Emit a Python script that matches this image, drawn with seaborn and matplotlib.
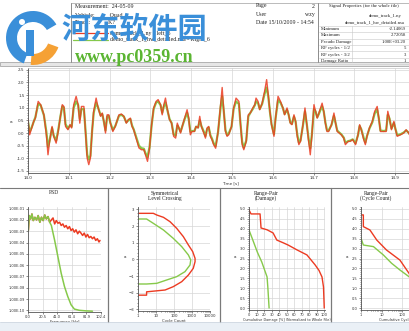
import numpy as np
import pandas as pd
import matplotlib
matplotlib.use("Agg")
import matplotlib.pyplot as plt
import seaborn as sns
from matplotlib.patches import Wedge, Rectangle, Circle
from matplotlib.ticker import AutoMinorLocator, FixedLocator, NullFormatter

# ---------------- data ----------------
# main time history (time [s], two channels)
time_s = [
    14.000, 14.004, 14.009, 14.014, 14.018, 14.025, 14.031, 14.039, 14.045, 14.049,
    14.053, 14.059, 14.063, 14.069, 14.074, 14.080, 14.084, 14.088, 14.092, 14.098,
    14.103, 14.107, 14.112, 14.118, 14.123, 14.127, 14.131, 14.137, 14.141, 14.145,
    14.149, 14.153, 14.157, 14.161, 14.167, 14.172, 14.178, 14.182, 14.186, 14.190,
    14.194, 14.198, 14.202, 14.208, 14.214, 14.223, 14.229, 14.235, 14.241, 14.246,
    14.251, 14.255, 14.259, 14.265, 14.272, 14.278, 14.284, 14.288, 14.293, 14.298,
    14.303, 14.308, 14.314, 14.319, 14.325, 14.329, 14.333, 14.337, 14.341, 14.347,
    14.352, 14.357, 14.362, 14.366, 14.370, 14.374, 14.378, 14.384, 14.390, 14.394,
    14.398, 14.402, 14.408, 14.412, 14.417, 14.421, 14.425, 14.431, 14.435, 14.439,
    14.443, 14.447, 14.451, 14.455, 14.460, 14.466, 14.472, 14.476, 14.480, 14.484,
    14.488, 14.492, 14.499, 14.504, 14.510, 14.517, 14.521, 14.525, 14.529, 14.535,
    14.540, 14.545, 14.551, 14.556, 14.559, 14.564, 14.568, 14.574, 14.580, 14.585,
    14.589, 14.593, 14.597, 14.603, 14.607, 14.613, 14.619, 14.625, 14.629, 14.635,
    14.639, 14.643, 14.647, 14.652, 14.656, 14.660, 14.664, 14.668, 14.674, 14.679,
    14.684, 14.688, 14.692, 14.696, 14.701, 14.705, 14.709, 14.713, 14.717, 14.721,
    14.725, 14.729, 14.733, 14.737, 14.744, 14.750, 14.754, 14.758, 14.763, 14.768,
    14.774, 14.778, 14.785, 14.790, 14.796, 14.803, 14.809, 14.813, 14.817, 14.823,
    14.827, 14.831, 14.837, 14.844, 14.850, 14.856, 14.860, 14.864, 14.872, 14.878,
    14.882, 14.886, 14.891, 14.897, 14.901, 14.905, 14.913, 14.921, 14.927, 14.933,
    14.938,
]
signal_red = [
    0.53, -0.07, 0.20, 0.46, 0.59, 1.25, 1.12, 0.72, -0.07, -0.86,
    -0.33, 0.26, -0.13, -0.40, 0.06, 0.72, 1.12, 1.05, 0.26, 0.13,
    0.33, 0.20, 1.12, 1.45, 1.12, 0.39, 1.05, 1.05, 0.06, -0.99,
    -1.25, -0.99, 0.06, 0.86, 1.38, 0.99, 0.66, 0.79, 0.46, 0.00,
    0.72, 0.72, 0.39, 0.06, 0.26, 0.72, 0.75, 0.66, 0.39, 0.53,
    0.59, 0.26, 0.13, -0.20, -0.59, -0.66, -0.66, -0.86, -1.12, -0.59,
    0.33, 0.99, 1.25, 1.32, 1.12, 0.72, 1.12, 1.38, 0.99, 0.53,
    0.39, -0.13, -0.20, 0.39, 0.20, 0.00, 0.26, 0.59, 0.92, 0.59,
    -0.07, 0.06, 0.06, 0.26, 0.20, 0.66, 0.26, 0.00, -0.20, 0.20,
    0.26, -0.13, -0.26, -0.46, -0.60, 0.06, 1.12, 1.80, 0.86, 0.06,
    -0.13, -0.07, 0.26, 0.99, 1.38, 1.25, 0.33, -0.46, -0.66, -0.33,
    0.72, 0.79, 0.99, 1.12, 1.38, 1.25, 0.92, 1.18, 1.65, 2.11,
    1.51, 0.86, 0.33, -0.13, 0.59, 1.45, 1.25, 0.99, 0.72, 0.99,
    0.72, 0.39, 0.33, 0.72, 0.46, -0.13, -0.46, -0.33, 0.33, 0.99,
    0.26, -0.33, -0.86, -0.07, 1.12, 0.86, 0.59, 0.79, 0.99, 1.18,
    0.86, 0.39, 0.06, 0.06, 0.33, 0.79, 0.39, 0.06, 0.00, -0.07,
    -0.20, -0.46, -0.33, -0.33, -0.26, -0.46, -0.07, 0.33, 0.13, -0.26,
    -0.46, -0.13, 0.20, 0.46, 0.86, 1.05, 0.59, 0.06, 0.06, 0.06,
    0.86, 0.59, 0.13, 0.46, 0.13, -0.13, -0.07, 0.00, 0.13, 0.00,
    -0.13,
]
signal_green = [
    0.45, 0.05, 0.22, 0.45, 0.62, 1.15, 1.10, 0.70, 0.05, -0.55,
    -0.30, 0.20, -0.10, -0.30, 0.10, 0.70, 1.05, 1.00, 0.35, 0.18,
    0.30, 0.25, 1.00, 1.25, 1.10, 0.55, 0.95, 0.95, 0.10, -0.85,
    -1.05, -0.90, 0.05, 0.80, 1.20, 1.00, 0.70, 0.75, 0.45, 0.10,
    0.65, 0.68, 0.40, 0.12, 0.28, 0.68, 0.72, 0.65, 0.42, 0.50,
    0.55, 0.30, 0.15, -0.15, -0.50, -0.60, -0.62, -0.80, -0.95, -0.55,
    0.30, 0.95, 1.20, 1.25, 1.10, 0.80, 1.05, 1.20, 0.95, 0.55,
    0.40, -0.05, -0.10, 0.30, 0.20, 0.05, 0.25, 0.55, 0.80, 0.55,
    0.05, 0.08, 0.08, 0.25, 0.22, 0.50, 0.28, 0.05, -0.12, 0.15,
    0.22, -0.08, -0.22, -0.40, -0.52, 0.05, 1.00, 1.45, 0.85, 0.12,
    -0.08, -0.02, 0.25, 0.95, 1.25, 1.15, 0.35, -0.35, -0.58, -0.30,
    0.65, 0.80, 0.95, 1.10, 1.25, 1.18, 0.95, 1.15, 1.55, 1.80,
    1.45, 0.85, 0.35, -0.05, 0.60, 1.30, 1.20, 0.98, 0.75, 0.92,
    0.72, 0.42, 0.36, 0.65, 0.45, -0.05, -0.38, -0.30, 0.30, 0.85,
    0.28, -0.25, -0.60, -0.05, 0.95, 0.85, 0.62, 0.75, 0.92, 1.05,
    0.85, 0.42, 0.10, 0.10, 0.32, 0.68, 0.40, 0.10, 0.02, -0.05,
    -0.18, -0.38, -0.32, -0.30, -0.25, -0.40, -0.08, 0.28, 0.15, -0.20,
    -0.38, -0.12, 0.18, 0.42, 0.78, 0.92, 0.58, 0.10, 0.08, 0.10,
    0.72, 0.58, 0.18, 0.40, 0.15, -0.08, -0.05, 0.02, 0.10, 0.02,
    -0.10,
]
time_ticks = [14.0, 14.1, 14.2, 14.3, 14.4, 14.5, 14.6, 14.7, 14.8, 14.9]
signal_ticks = [-1.5, -1.0, -0.5, 0.0, 0.5, 1.0, 1.5, 2.0, 2.5]

# PSD (frequency [Hz], log10 of PSD)
psd_freq_red = [0.5, 1.8, 3.7, 5.5, 7.4, 9.7, 12.0, 14.3, 16.6, 18.9,
                21.2, 23.5, 25.8, 28.1, 30.4, 32.8, 35.1, 37.4, 39.7, 42.0,
                44.3, 46.6, 48.9, 51.2, 53.5, 55.8, 58.1, 60.4, 62.7, 65.0,
                67.3, 69.7, 72.0, 74.3, 76.6, 78.9, 81.2, 83.5, 85.8, 88.1,
                90.4, 92.7, 95.0, 97.3, 99.6, 101.0]
psd_red_log10 = [-2.93, -1.61, -1.91, -1.47, -2.05, -1.76, -1.99, -1.61, -2.20, -1.76,
                 -2.05, -1.56, -1.91, -1.70, -2.20, -1.99, -1.82, -2.35, -2.05, -2.29,
                 -2.20, -2.49, -2.35, -2.64, -2.49, -2.78, -2.58, -2.93, -2.78, -3.08,
                 -2.87, -3.22, -2.99, -3.16, -3.37, -3.16, -3.51, -3.28, -3.57, -3.46,
                 -3.66, -3.51, -3.81, -3.66, -3.95, -3.81]
psd_freq_green = [0.5, 1.8, 3.7, 5.5, 7.4, 9.7, 12.0, 14.3, 16.6, 18.9,
                  21.2, 23.5, 25.8, 28.1, 30.4, 32.8, 37.4, 42.0, 46.6, 51.2,
                  55.8, 60.4, 65.0, 72.0, 81.2, 90.4]
psd_green_log10 = [-2.93, -1.61, -1.91, -1.47, -2.05, -1.76, -1.99, -1.61, -2.20, -1.76,
                   -2.05, -1.56, -1.91, -1.70, -2.20, -2.49, -3.81, -5.27, -6.73, -7.90,
                   -8.78, -9.51, -9.89, -10.00, -10.05, -10.08]
psd_xticks = [0.0, 20.5, 41.0, 61.4, 81.9, 102.4]

# Symmetrical level crossing (level, cycle count)
lc_level_red = [2.76, 2.76, 2.66, 2.52, 2.26, 1.86, 1.36, 0.86, 0.46, 0.06,
                -0.14, -0.54, -0.94, -1.34, -1.64, -1.84, -1.95, -2.15, -2.15]
lc_count_red = [1, 7.1, 11, 26, 60, 141, 331, 631, 1096, 1479,
                1479, 1175, 631, 269, 91, 32, 3.0, 3.0, 1]
lc_level_green = [2.42, 2.42, 2.16, 1.76, 1.26, 0.76, 0.26, -0.04, -0.34, -0.74,
                  -1.04, -1.24, -1.44, -1.48, -1.48]
lc_count_green = [1, 3.0, 7.1, 26, 91, 269, 631, 851, 776, 407,
                  141, 39, 11, 3.0, 1]

# Range-pair (damage)
rp_dmg_pct_red = [0, 2.7, 14.7, 16, 24, 32, 37, 45, 52, 64, 77, 88, 93, 97, 99, 100]
rp_dmg_range_red = [4.95, 4.75, 4.75, 4.04, 3.95, 3.79, 3.43, 3.30, 3.18, 2.93,
                    2.68, 2.17, 1.90, 1.57, 1.06, 0.0]
rp_dmg_pct_green = [0, 4, 11, 17, 24, 25, 26.7]
rp_dmg_range_green = [3.94, 3.54, 2.83, 2.32, 1.57, 1.06, 0.0]

# Range-pair (cycle count)
rp_cnt_red = [1, 1.3, 1.3, 2.7, 5.8, 17, 76, 210, 400]
rp_cnt_range_red = [4.70, 4.70, 4.11, 3.94, 3.43, 2.93, 2.42, 1.75, 1.20]
rp_cnt_green = [1, 1.3, 4.0, 12, 30, 76, 210, 500]
rp_cnt_range_green = [3.52, 3.18, 3.10, 2.68, 2.26, 1.92, 1.58, 1.20]
range_ticks = [0.0, 0.5, 1.0, 1.5, 2.0, 2.5, 3.0, 3.5, 4.0, 4.5, 5.0]

# ---------------- figure ----------------
RED = "#ec3b22"
GREEN = "#86c94a"
W, H = 409, 331

sns.set_theme(style="whitegrid")
plt.rcParams['font.family'] = ['DejaVu Sans']

fig = plt.figure(figsize=(W / 100, H / 100), dpi=100)
fig.patch.set_facecolor("white")


def axpx(l, t, r, b):
    return fig.add_axes([l / W, 1 - b / H, (r - l) / W, (b - t) / H])


def style(ax, fs=3.0):
    ax.set_facecolor("white")
    ax.grid(True, which="major", color="#d6d6d6", lw=0.5)
    for s in ["top", "right"]:
        ax.spines[s].set_visible(False)
    for s in ["left", "bottom"]:
        ax.spines[s].set_visible(True)
        ax.spines[s].set_color("#555555")
        ax.spines[s].set_linewidth(0.6)
    ax.tick_params(axis="both", which="both", labelsize=fs, length=1.5, width=0.4,
                   pad=1, colors="#333333", left=True, bottom=True)
    ax.tick_params(axis="both", which="minor", length=1.0)
    ax.set_xlabel("")
    ax.set_ylabel("")


# main time history
df_main = pd.DataFrame({"t": time_s, "red": signal_red, "green": signal_green})
ax = axpx(28, 68, 409, 173)
sns.lineplot(data=df_main, x="t", y="green", color=GREEN, lw=1.6, ax=ax)
sns.lineplot(data=df_main, x="t", y="red", color=RED, lw=1.0, alpha=0.85, ax=ax)
style(ax, 3.0)
ax.set_xlim(14.0, 14.934)
ax.set_ylim(-1.58, 2.57)
ax.set_xticks(time_ticks)
ax.set_xticklabels([f"{v:.1f}" for v in time_ticks])
ax.set_yticks(signal_ticks)
ax.set_yticklabels([f"{v:.1f}" for v in signal_ticks])
ax.yaxis.set_minor_locator(AutoMinorLocator(5))
ax.spines["top"].set_visible(True)
ax.spines["top"].set_color("#c8c8c8")
ax.spines["top"].set_linewidth(0.5)

# PSD
df_psd_r = pd.DataFrame({"f": psd_freq_red, "p": [10 ** v for v in psd_red_log10]})
df_psd_g = pd.DataFrame({"f": psd_freq_green, "p": [10 ** v for v in psd_green_log10]})
ax = axpx(28, 207, 101, 312)
sns.lineplot(data=df_psd_r, x="f", y="p", color=RED, lw=1.1, ax=ax)
sns.lineplot(data=df_psd_g, x="f", y="p", color=GREEN, lw=1.1, ax=ax)
ax.set_yscale("log")
style(ax, 2.6)
ax.set_ylim(10 ** -10.15, 10 ** -0.85)
ax.set_xlim(0, 102.4)
ax.yaxis.set_major_locator(FixedLocator([10.0 ** -k for k in range(1, 11)]))
ax.yaxis.set_minor_formatter(NullFormatter())
ax.set_yticklabels([f"1.00E-{k:02d}" for k in range(1, 11)])
ax.set_xticks(psd_xticks)
ax.set_xticklabels([f"{v:.1f}" for v in psd_xticks])
ax.set_xlabel("Frequency [Hz]", fontsize=2.8, labelpad=0.5, color="#333333")

# Level crossing
df_lc_r = pd.DataFrame({"n": lc_count_red, "a": lc_level_red})
df_lc_g = pd.DataFrame({"n": lc_count_green, "a": lc_level_green})
ax = axpx(138, 207, 210, 311)
sns.lineplot(data=df_lc_r, x="n", y="a", sort=False, estimator=None, color=RED, lw=1.0, ax=ax)
sns.lineplot(data=df_lc_g, x="n", y="a", sort=False, estimator=None, color=GREEN, lw=1.0, ax=ax)
ax.set_xscale("log")
style(ax, 2.8)
ax.set_xlim(1, 1e4)
ax.set_ylim(-3.1, 3.14)
ax.set_yticks([-3, -2, -1, 0, 1, 2, 3])
ax.yaxis.set_minor_locator(AutoMinorLocator(5))
ax.xaxis.set_major_locator(FixedLocator([1, 10, 100, 1000, 10000]))
ax.xaxis.set_minor_formatter(NullFormatter())
ax.set_xticklabels(["1", "10", "100", "1000", "10000"])
ax.set_xlabel("Cycle Count", fontsize=2.8, labelpad=0.5, color="#333333")
ax.set_ylabel("a", fontsize=3, rotation=0, labelpad=3, color="#333333")

# Range-pair damage
df_rd_r = pd.DataFrame({"d": rp_dmg_pct_red, "r": rp_dmg_range_red})
df_rd_g = pd.DataFrame({"d": rp_dmg_pct_green, "r": rp_dmg_range_green})
ax = axpx(249, 207, 325, 310)
sns.lineplot(data=df_rd_r, x="d", y="r", sort=False, estimator=None, color=RED, lw=1.0, ax=ax)
sns.lineplot(data=df_rd_g, x="d", y="r", sort=False, estimator=None, color=GREEN, lw=1.0, ax=ax)
style(ax, 2.6)
ax.set_xlim(0, 101)
ax.set_ylim(-0.1, 5.1)
ax.set_yticks(range_ticks)
ax.set_yticklabels([f"{v:.1f}" for v in range_ticks])
ax.yaxis.set_minor_locator(AutoMinorLocator(5))
ax.set_xticks(list(range(0, 101, 10)))
ax.set_xlabel("Cumulative Damage [%] (Normalized to Whole File)", fontsize=2.4,
              labelpad=0.5, color="#333333")
ax.set_ylabel("a", fontsize=3, rotation=0, labelpad=3, color="#333333")

# Range-pair cycle count
df_rc_r = pd.DataFrame({"n": rp_cnt_red, "r": rp_cnt_range_red})
df_rc_g = pd.DataFrame({"n": rp_cnt_green, "r": rp_cnt_range_green})
ax = axpx(361, 207, 445, 310)
sns.lineplot(data=df_rc_r, x="n", y="r", sort=False, estimator=None, color=RED, lw=1.0, ax=ax)
sns.lineplot(data=df_rc_g, x="n", y="r", sort=False, estimator=None, color=GREEN, lw=1.0, ax=ax)
ax.set_xscale("log")
style(ax, 2.6)
ax.set_xlim(1, 10 ** 4.06)
ax.set_ylim(-0.1, 5.1)
ax.set_yticks(range_ticks)
ax.set_yticklabels([f"{v:.1f}" for v in range_ticks])
ax.yaxis.set_minor_locator(AutoMinorLocator(5))
ax.xaxis.set_major_locator(FixedLocator([1, 10, 100, 1000, 10000]))
ax.xaxis.set_minor_formatter(NullFormatter())
ax.set_xticklabels(["1", "10", "100", "1000", "10000"])
ax.set_xlabel("Cumulative Cycle Count [-]", fontsize=2.6, labelpad=0.5, color="#333333")
ax.set_ylabel("a", fontsize=3, rotation=0, labelpad=3, color="#333333")

# ---------------- overlay: frames, header, watermark ----------------
ov = fig.add_axes([0, 0, 1, 1], zorder=20)
ov.set_xlim(0, W)
ov.set_ylim(H, 0)
ov.axis("off")
ov.patch.set_alpha(0)

LINE = "#8c8c8c"
ov.plot([71, W], [3, 3], color="#b0b0b0", lw=0.6)
ov.plot([71, 71], [3, 62], color=LINE, lw=0.7)
ov.plot([318, 318], [3, 62], color=LINE, lw=0.7)
ov.add_patch(Rectangle((0, 62), W, 3.5, facecolor="#e6e6e6", edgecolor="#9a9a9a", lw=0.5))
ov.plot([0, W], [187.5, 187.5], color="#7a7a7a", lw=0.8)
for x in [108, 220, 331]:
    ov.plot([x, x], [188, 322], color="#7a7a7a", lw=0.9)
ov.add_patch(Rectangle((0, 322), W, 9, facecolor="#eaf0f6", edgecolor="none"))
ov.plot([0, W], [322, 322], color="#c9d3dd", lw=0.5)

SERIF = ["Liberation Serif", "DejaVu Serif"]
hs = 4.2
ov.text(75, 7, "Measurement:  24-05-09", fontsize=hs, family=SERIF, va="center", color="#222222")
ov.text(75, 15, "Vehicle:          Quad", fontsize=hs, family=SERIF, va="center", color="#222222")
ov.text(75, 23, "Track:            K?", fontsize=hs, family=SERIF, va="center", color="#222222")
ov.plot([73, 108], [33, 33], color=RED, lw=0.9)
ov.text(110, 33, "demo_track_1.ny - left_6", fontsize=hs, family=SERIF, va="center", color="#222222")
ov.plot([73, 108], [40, 40], color=GREEN, lw=0.9)
ov.text(110, 40, "demo_track_1_hw_detailed.nsa - Right_6", fontsize=hs, family=SERIF,
        va="center", color="#222222")

ov.text(256, 6, "Page", fontsize=hs, family=SERIF, va="center", color="#222222")
ov.text(315, 6, "2", fontsize=hs, family=SERIF, va="center", ha="right", color="#222222")
ov.text(256, 14.5, "User", fontsize=hs, family=SERIF, va="center", color="#222222")
ov.text(315, 14.5, "wzy", fontsize=hs, family=SERIF, va="center", ha="right", color="#222222")
ov.text(256, 23, "Date 15/10/2009 - 14:54", fontsize=hs, family=SERIF, va="center", color="#222222")

ts = 3.4
ov.text(364, 6, "Signal Properties (for the whole file)", fontsize=ts, family=SERIF,
        va="center", ha="center", color="#222222")
ov.text(385, 16, "demo_track_1.ny", fontsize=ts, family=SERIF, va="center", ha="center", color="#222222")
ov.text(375, 22.5, "demo_track_1_hw_detailed.nsa", fontsize=ts, family=SERIF, va="center",
        ha="center", color="#222222")
rows = [("Minimum", "-2.14069"), ("Maximum", "2.72058"), ("Pseudo Damage", "1.00E+03.20"),
        ("RF cycles - 1/2", "5"), ("RF cycles - 3/2", "3"), ("Damage Ratio", "1")]
for i, (k, v) in enumerate(rows):
    y = 29 + i * 6.4
    ov.text(321, y, k, fontsize=ts, family=SERIF, va="center", color="#222222")
    ov.text(406, y, v, fontsize=ts, family=SERIF, va="center", ha="right", color="#222222")
    ov.plot([319, 409], [y + 3.2, y + 3.2], color="#c8c8c8", lw=0.4)
ov.plot([319, 409], [25.8, 25.8], color="#c8c8c8", lw=0.4)
ov.plot([352, 352], [25.8, 62], color="#c8c8c8", lw=0.4)

ov.text(10, 122, "a", fontsize=3.2, va="center", color="#333333")
ov.text(230, 183, "Time [s]", fontsize=3.0, va="center", ha="center", color="#333333")

tfs = 4.0
ov.text(54, 193, "PSD", fontsize=tfs, ha="center", va="center", family=SERIF, color="#222222")
ov.text(165, 196, "Symmetrical\nLevel Crossing", fontsize=tfs, ha="center", va="center",
        family=SERIF, linespacing=1.0, color="#222222")
ov.text(266, 196, "Range-Pair\n(Damage)", fontsize=tfs, ha="center", va="center",
        family=SERIF, linespacing=1.0, color="#222222")
ov.text(376, 196, "Range-Pair\n(Cycle Count)", fontsize=tfs, ha="center", va="center",
        family=SERIF, linespacing=1.0, color="#222222")

# watermark logo
BLUE = "#3a8fd9"
ORANGE = "#f5a135"
ov.add_patch(Wedge((33, 38), 27, 110, 330, width=11, facecolor=BLUE, edgecolor="none"))
ov.add_patch(Wedge((33, 38), 27, 20, 95, width=11, facecolor=ORANGE, edgecolor="none"))
ov.add_patch(Rectangle((26, 30), 8, 26, facecolor=BLUE, edgecolor="none"))
ov.add_patch(Circle((22, 22), 3, facecolor="white", edgecolor="none"))
ov.text(134, 29, "河东软件园", fontsize=21, fontweight="bold", color=BLUE,
        family=["Noto Sans CJK SC", "DejaVu Sans"], ha="center", va="center")
ov.text(134, 57, "www.pc0359.cn", fontsize=13, fontweight="bold", color="#5bb532",
        family=SERIF, ha="center", va="center")

fig.savefig("out.png", dpi=100, facecolor="white")
